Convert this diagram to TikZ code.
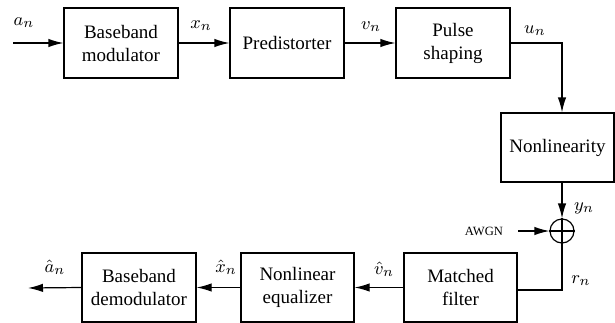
\documentclass[tikz,border=0pt]{standalone}
\usepackage{fontspec}
\setmainfont{Liberation Serif}
\usetikzlibrary{arrows.meta,calc}
\begin{document}
\begin{tikzpicture}[x=0.5pt,y=-0.5pt,
  every path/.style={line width=0.6pt},
  blk/.style={draw,line width=0.6pt,minimum width=57pt,minimum height=35pt,inner sep=0pt,align=center,font=\fontsize{9.5}{11.5}\selectfont},
  lbl/.style={inner sep=0pt,font=\fontsize{9.5}{11.5}\selectfont},
  arr/.style={-{Latex[length=7.5pt,width=4.2pt]}},
  sumnode/.style={draw,circle,minimum size=12pt,inner sep=0pt,line width=0.6pt}]
\useasboundingbox (0,0) rectangle (615,322);
% blocks
\node[blk] (bm) at (121,43) {Baseband\\modulator};
\node[blk] (pd) at (287,43) {Predistorter};
\node[blk] (ps) at (453,43) {Pulse\\shaping};
\node[blk,minimum height=34.5pt,minimum width=56.5pt] (nl) at (557.5,147.5) {Nonlinearity};
\node[sumnode] (sum) at (562,231) {};
\draw (sum.north) -- (sum.south) (sum.west) -- (sum.east);
\node[blk,minimum height=34.5pt,minimum width=56.5pt] (mf) at (460.5,287.5) {Matched\\filter};
\node[blk,minimum height=34.5pt,minimum width=56.5pt] (eq) at (297.5,287.5) {Nonlinear\\equalizer};
\node[blk,minimum height=34.5pt] (dm) at (139,287.5) {Baseband\\demodulator};
\coordinate (in) at (13,43);
\coordinate (out) at (28,288);
\node[anchor=east,inner sep=0pt,outer sep=7.5pt,font=\fontsize{6.3}{7}\selectfont] (awgn) at (518,231) {AWGN};
% connectors
\draw[arr] (in) -- (bm.west);
\draw[arr] (bm.east) -- (pd.west);
\draw[arr] (pd.east) -- (ps.west);
\draw[arr] (ps.east) -| (sum.center |- nl.north);
\draw[arr] (sum.center |- nl.south) -- (sum.north);
\draw[arr] (awgn.east) -- (sum.west);
\draw (sum.south) |- ($(mf.east)+(0,2.5)$);
\draw[arr] (mf.west) -- (eq.east);
\draw[arr] (eq.west) -- (dm.east);
\draw[arr] (dm.west) -- (out);
% labels
\node[lbl] (la) at (24,23) {$a_n$};
\node[lbl] (lx) at (201,26) {$x_n$};
\node[lbl] (lv) at (371,27) {$v_n$};
\node[lbl] (lu) at (535,31) {$u_n$};
\node[lbl] (ly) at (584,208) {$y_n$};
\node[lbl] (lr) at (581,281) {$r_n$};
\node[lbl] (lvh) at (384,269) {$\hat{v}_n$};
\node[lbl] (lxh) at (226,267) {$\hat{x}_n$};
\node[lbl] (lah) at (55,267) {$\hat{a}_n$};
\end{tikzpicture}
\end{document}
